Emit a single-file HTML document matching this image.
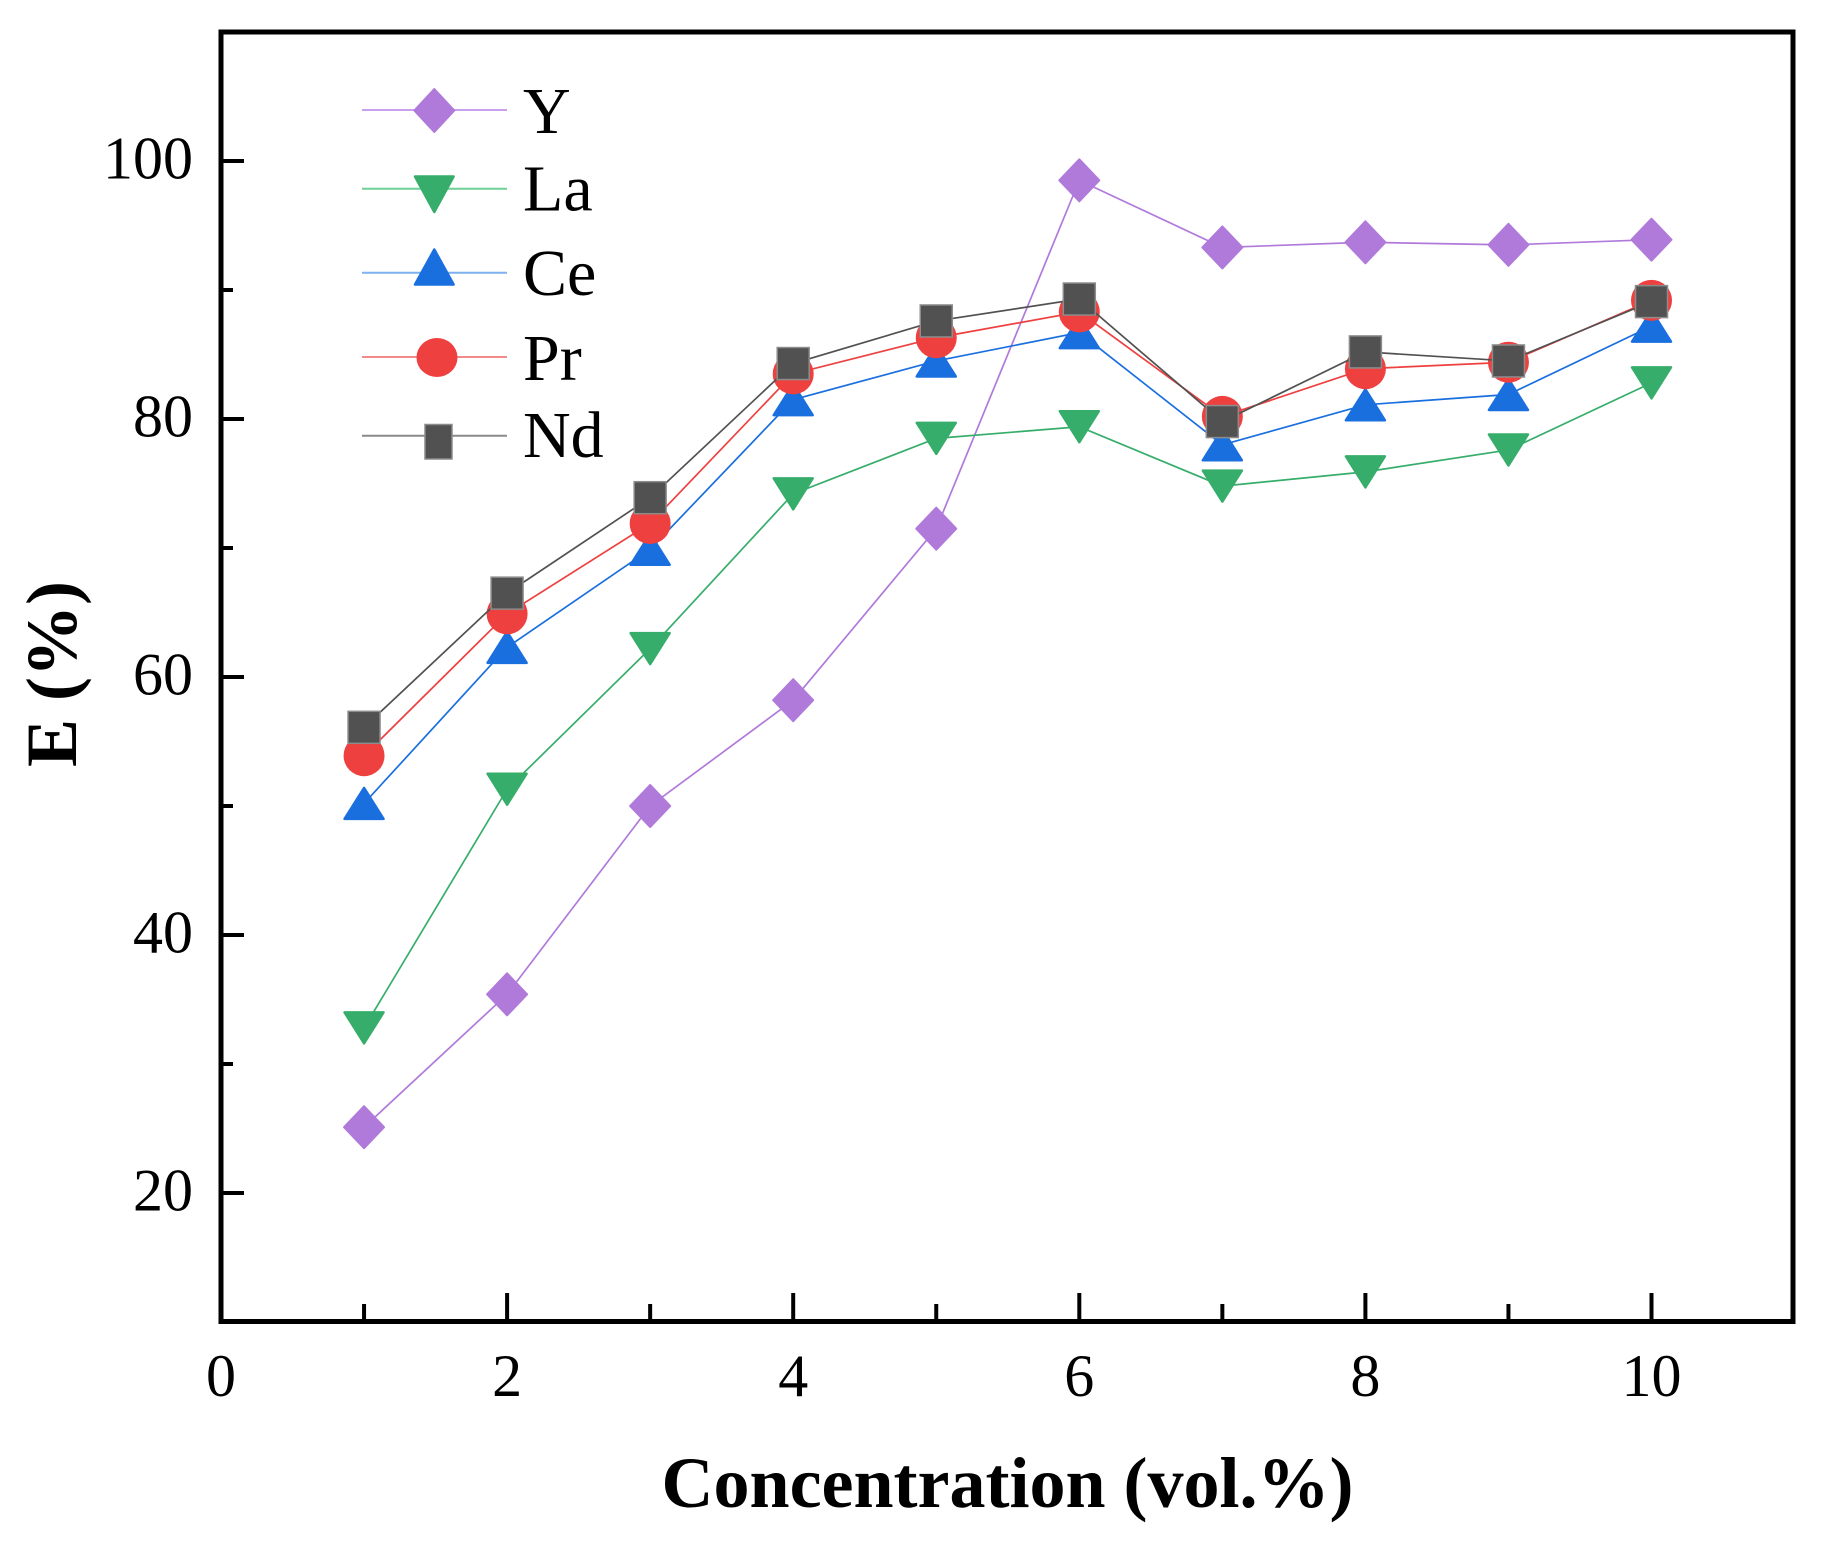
<!DOCTYPE html>
<html>
<head>
<meta charset="utf-8">
<style>
  html, body { margin: 0; padding: 0; background: #ffffff; }
  svg { display: block; }
  text { font-family: "Liberation Serif", "Times New Roman", serif; fill: #000; }
</style>
</head>
<body>
<svg width="1830" height="1557" viewBox="0 0 1830 1557" xmlns="http://www.w3.org/2000/svg">
  <defs>
    <path id="dia" d="M0,-21 L20,0 L0,21 L-20,0 Z" fill="#b07adb" stroke="#b07adb" stroke-width="2" stroke-linejoin="round"/>
    <path id="tdn" d="M-19.5,-15.5 L19.5,-15.5 L0,15.5 Z" fill="#37ad6b" stroke="#37ad6b" stroke-width="2.5" stroke-linejoin="round"/>
    <path id="tup" d="M-19.5,15.5 L19.5,15.5 L0,-15.5 Z" fill="#1a6fdf" stroke="#1a6fdf" stroke-width="2.5" stroke-linejoin="round"/>
    <circle id="cir" cx="0" cy="0" r="20.5" fill="#ef4040"/>
    <rect id="sq" x="-16" y="-16" width="32" height="32" fill="#515151" stroke="#8c8c8c" stroke-width="1.5"/>
  </defs>

  <!-- Y series -->
  <polyline fill="none" stroke="#b07adb" stroke-width="1.7" points="364.05,1127.21 507.1,994.34 650.15,806 793.2,700.22 936.25,528.65 1079.3,180.35 1222.35,247.43 1365.4,242.27 1508.45,244.85 1651.5,239.69"/>
  <use href="#dia" x="364.05" y="1127.21"/>
  <use href="#dia" x="507.1" y="994.34"/>
  <use href="#dia" x="650.15" y="806"/>
  <use href="#dia" x="793.2" y="700.22"/>
  <use href="#dia" x="936.25" y="528.65"/>
  <use href="#dia" x="1079.3" y="180.35"/>
  <use href="#dia" x="1222.35" y="247.43"/>
  <use href="#dia" x="1365.4" y="242.27"/>
  <use href="#dia" x="1508.45" y="244.85"/>
  <use href="#dia" x="1651.5" y="239.69"/>

  <!-- La series -->
  <polyline fill="none" stroke="#37ad6b" stroke-width="1.7" points="364.05,1027.88 507.1,789.23 650.15,648.62 793.2,493.82 936.25,438.35 1079.3,426.74 1222.35,486.08 1365.4,471.89 1508.45,449.96 1651.5,382.88"/>
  <use href="#tdn" x="364.05" y="1027.88"/>
  <use href="#tdn" x="507.1" y="789.23"/>
  <use href="#tdn" x="650.15" y="648.62"/>
  <use href="#tdn" x="793.2" y="493.82"/>
  <use href="#tdn" x="936.25" y="438.35"/>
  <use href="#tdn" x="1079.3" y="426.74"/>
  <use href="#tdn" x="1222.35" y="486.08"/>
  <use href="#tdn" x="1365.4" y="471.89"/>
  <use href="#tdn" x="1508.45" y="449.96"/>
  <use href="#tdn" x="1651.5" y="382.88"/>

  <!-- Ce series -->
  <polyline fill="none" stroke="#1a6fdf" stroke-width="1.7" points="364.05,803.42 507.1,647.33 650.15,549.29 793.2,399.65 936.25,360.95 1079.3,332.57 1222.35,444.8 1365.4,404.81 1508.45,394.49 1651.5,326.12"/>
  <use href="#tup" x="364.05" y="803.42"/>
  <use href="#tup" x="507.1" y="647.33"/>
  <use href="#tup" x="650.15" y="549.29"/>
  <use href="#tup" x="793.2" y="399.65"/>
  <use href="#tup" x="936.25" y="360.95"/>
  <use href="#tup" x="1079.3" y="332.57"/>
  <use href="#tup" x="1222.35" y="444.8"/>
  <use href="#tup" x="1365.4" y="404.81"/>
  <use href="#tup" x="1508.45" y="394.49"/>
  <use href="#tup" x="1651.5" y="326.12"/>

  <!-- Pr series -->
  <polyline fill="none" stroke="#ef4040" stroke-width="1.7" points="364.05,755.69 507.1,613.79 650.15,523.49 793.2,373.85 936.25,337.73 1079.3,311.93 1222.35,416.42 1365.4,368.69 1508.45,362.24 1651.5,300.32"/>
  <use href="#cir" x="364.05" y="755.69"/>
  <use href="#cir" x="507.1" y="613.79"/>
  <use href="#cir" x="650.15" y="523.49"/>
  <use href="#cir" x="793.2" y="373.85"/>
  <use href="#cir" x="936.25" y="337.73"/>
  <use href="#cir" x="1079.3" y="311.93"/>
  <use href="#cir" x="1222.35" y="416.42"/>
  <use href="#cir" x="1365.4" y="368.69"/>
  <use href="#cir" x="1508.45" y="362.24"/>
  <use href="#cir" x="1651.5" y="300.32"/>

  <!-- Nd series -->
  <polyline fill="none" stroke="#515151" stroke-width="1.7" points="364.05,727.31 507.1,593.15 650.15,497.69 793.2,363.53 936.25,320.96 1079.3,299.03 1222.35,421.58 1365.4,351.92 1508.45,360.95 1651.5,301.61"/>
  <use href="#sq" x="364.05" y="727.31"/>
  <use href="#sq" x="507.1" y="593.15"/>
  <use href="#sq" x="650.15" y="497.69"/>
  <use href="#sq" x="793.2" y="363.53"/>
  <use href="#sq" x="936.25" y="320.96"/>
  <use href="#sq" x="1079.3" y="299.03"/>
  <use href="#sq" x="1222.35" y="421.58"/>
  <use href="#sq" x="1365.4" y="351.92"/>
  <use href="#sq" x="1508.45" y="360.95"/>
  <use href="#sq" x="1651.5" y="301.61"/>

  <!-- Axes frame -->
  <rect x="221" y="32" width="1572" height="1289.5" fill="none" stroke="#000" stroke-width="5"/>

  <!-- Y ticks -->
  <g stroke="#000" stroke-width="4">
    <line x1="221" y1="1193" x2="244" y2="1193"/>
    <line x1="221" y1="935" x2="244" y2="935"/>
    <line x1="221" y1="677" x2="244" y2="677"/>
    <line x1="221" y1="419" x2="244" y2="419"/>
    <line x1="221" y1="161" x2="244" y2="161"/>
    <line x1="221" y1="1064" x2="233" y2="1064"/>
    <line x1="221" y1="806" x2="233" y2="806"/>
    <line x1="221" y1="548" x2="233" y2="548"/>
    <line x1="221" y1="290" x2="233" y2="290"/>
  </g>

  <!-- X ticks -->
  <g stroke="#000" stroke-width="4">
    <line x1="507.1" y1="1321" x2="507.1" y2="1293"/>
    <line x1="793.2" y1="1321" x2="793.2" y2="1293"/>
    <line x1="1079.3" y1="1321" x2="1079.3" y2="1293"/>
    <line x1="1365.4" y1="1321" x2="1365.4" y2="1293"/>
    <line x1="1651.5" y1="1321" x2="1651.5" y2="1293"/>
    <line x1="364.05" y1="1321" x2="364.05" y2="1304"/>
    <line x1="650.15" y1="1321" x2="650.15" y2="1304"/>
    <line x1="936.25" y1="1321" x2="936.25" y2="1304"/>
    <line x1="1222.35" y1="1321" x2="1222.35" y2="1304"/>
    <line x1="1508.45" y1="1321" x2="1508.45" y2="1304"/>
  </g>

  <!-- Y tick labels -->
  <g font-size="60" text-anchor="end">
    <text x="193" y="1210.5">20</text>
    <text x="193" y="952.5">40</text>
    <text x="193" y="694.5">60</text>
    <text x="193" y="436.5">80</text>
    <text x="193" y="178.5">100</text>
  </g>

  <!-- X tick labels -->
  <g font-size="60" text-anchor="middle">
    <text x="221" y="1396">0</text>
    <text x="507.1" y="1396">2</text>
    <text x="793.2" y="1396">4</text>
    <text x="1079.3" y="1396">6</text>
    <text x="1365.4" y="1396">8</text>
    <text x="1651.5" y="1396">10</text>
  </g>

  <!-- Axis titles -->
  <text x="1007.5" y="1507" font-size="72" font-weight="bold" text-anchor="middle">Concentration (vol.%)</text>
  <text transform="translate(76,674) rotate(-90)" font-size="72" font-weight="bold" text-anchor="middle">E (%)</text>

  <!-- Legend -->
  <g>
    <line x1="362" y1="110" x2="507" y2="110" stroke="#c9a0ee" stroke-width="2"/>
    <path d="M434.3,89 L454.3,110.5 L434.3,132 L414.3,110.5 Z" fill="#b07adb" stroke="#b07adb" stroke-width="2" stroke-linejoin="round"/>
    <text x="523" y="133" font-size="66">Y</text>

    <line x1="362" y1="188.7" x2="507" y2="188.7" stroke="#6fcf96" stroke-width="2"/>
    <path d="M415,176.5 L453.6,176.5 L434.3,212 Z" fill="#37ad6b" stroke="#37ad6b" stroke-width="2.5" stroke-linejoin="round"/>
    <text x="523" y="210.7" font-size="66">La</text>

    <line x1="362" y1="272.7" x2="507" y2="272.7" stroke="#7fb0f0" stroke-width="2"/>
    <path d="M415,284.5 L453.6,284.5 L434.3,249.5 Z" fill="#1a6fdf" stroke="#1a6fdf" stroke-width="2.5" stroke-linejoin="round"/>
    <text x="523" y="295" font-size="66">Ce</text>

    <line x1="362" y1="357" x2="507" y2="357" stroke="#f28a8a" stroke-width="2"/>
    <ellipse cx="437" cy="357.5" rx="20.5" ry="19.5" fill="#ef4040"/>
    <text x="523" y="380" font-size="66">Pr</text>

    <line x1="362" y1="435.7" x2="507" y2="435.7" stroke="#8a8a8a" stroke-width="2"/>
    <rect x="425" y="424.5" width="27" height="34.5" fill="#515151" stroke="#8c8c8c" stroke-width="1.5"/>
    <text x="523" y="457" font-size="66">Nd</text>
  </g>
</svg>
</body>
</html>
